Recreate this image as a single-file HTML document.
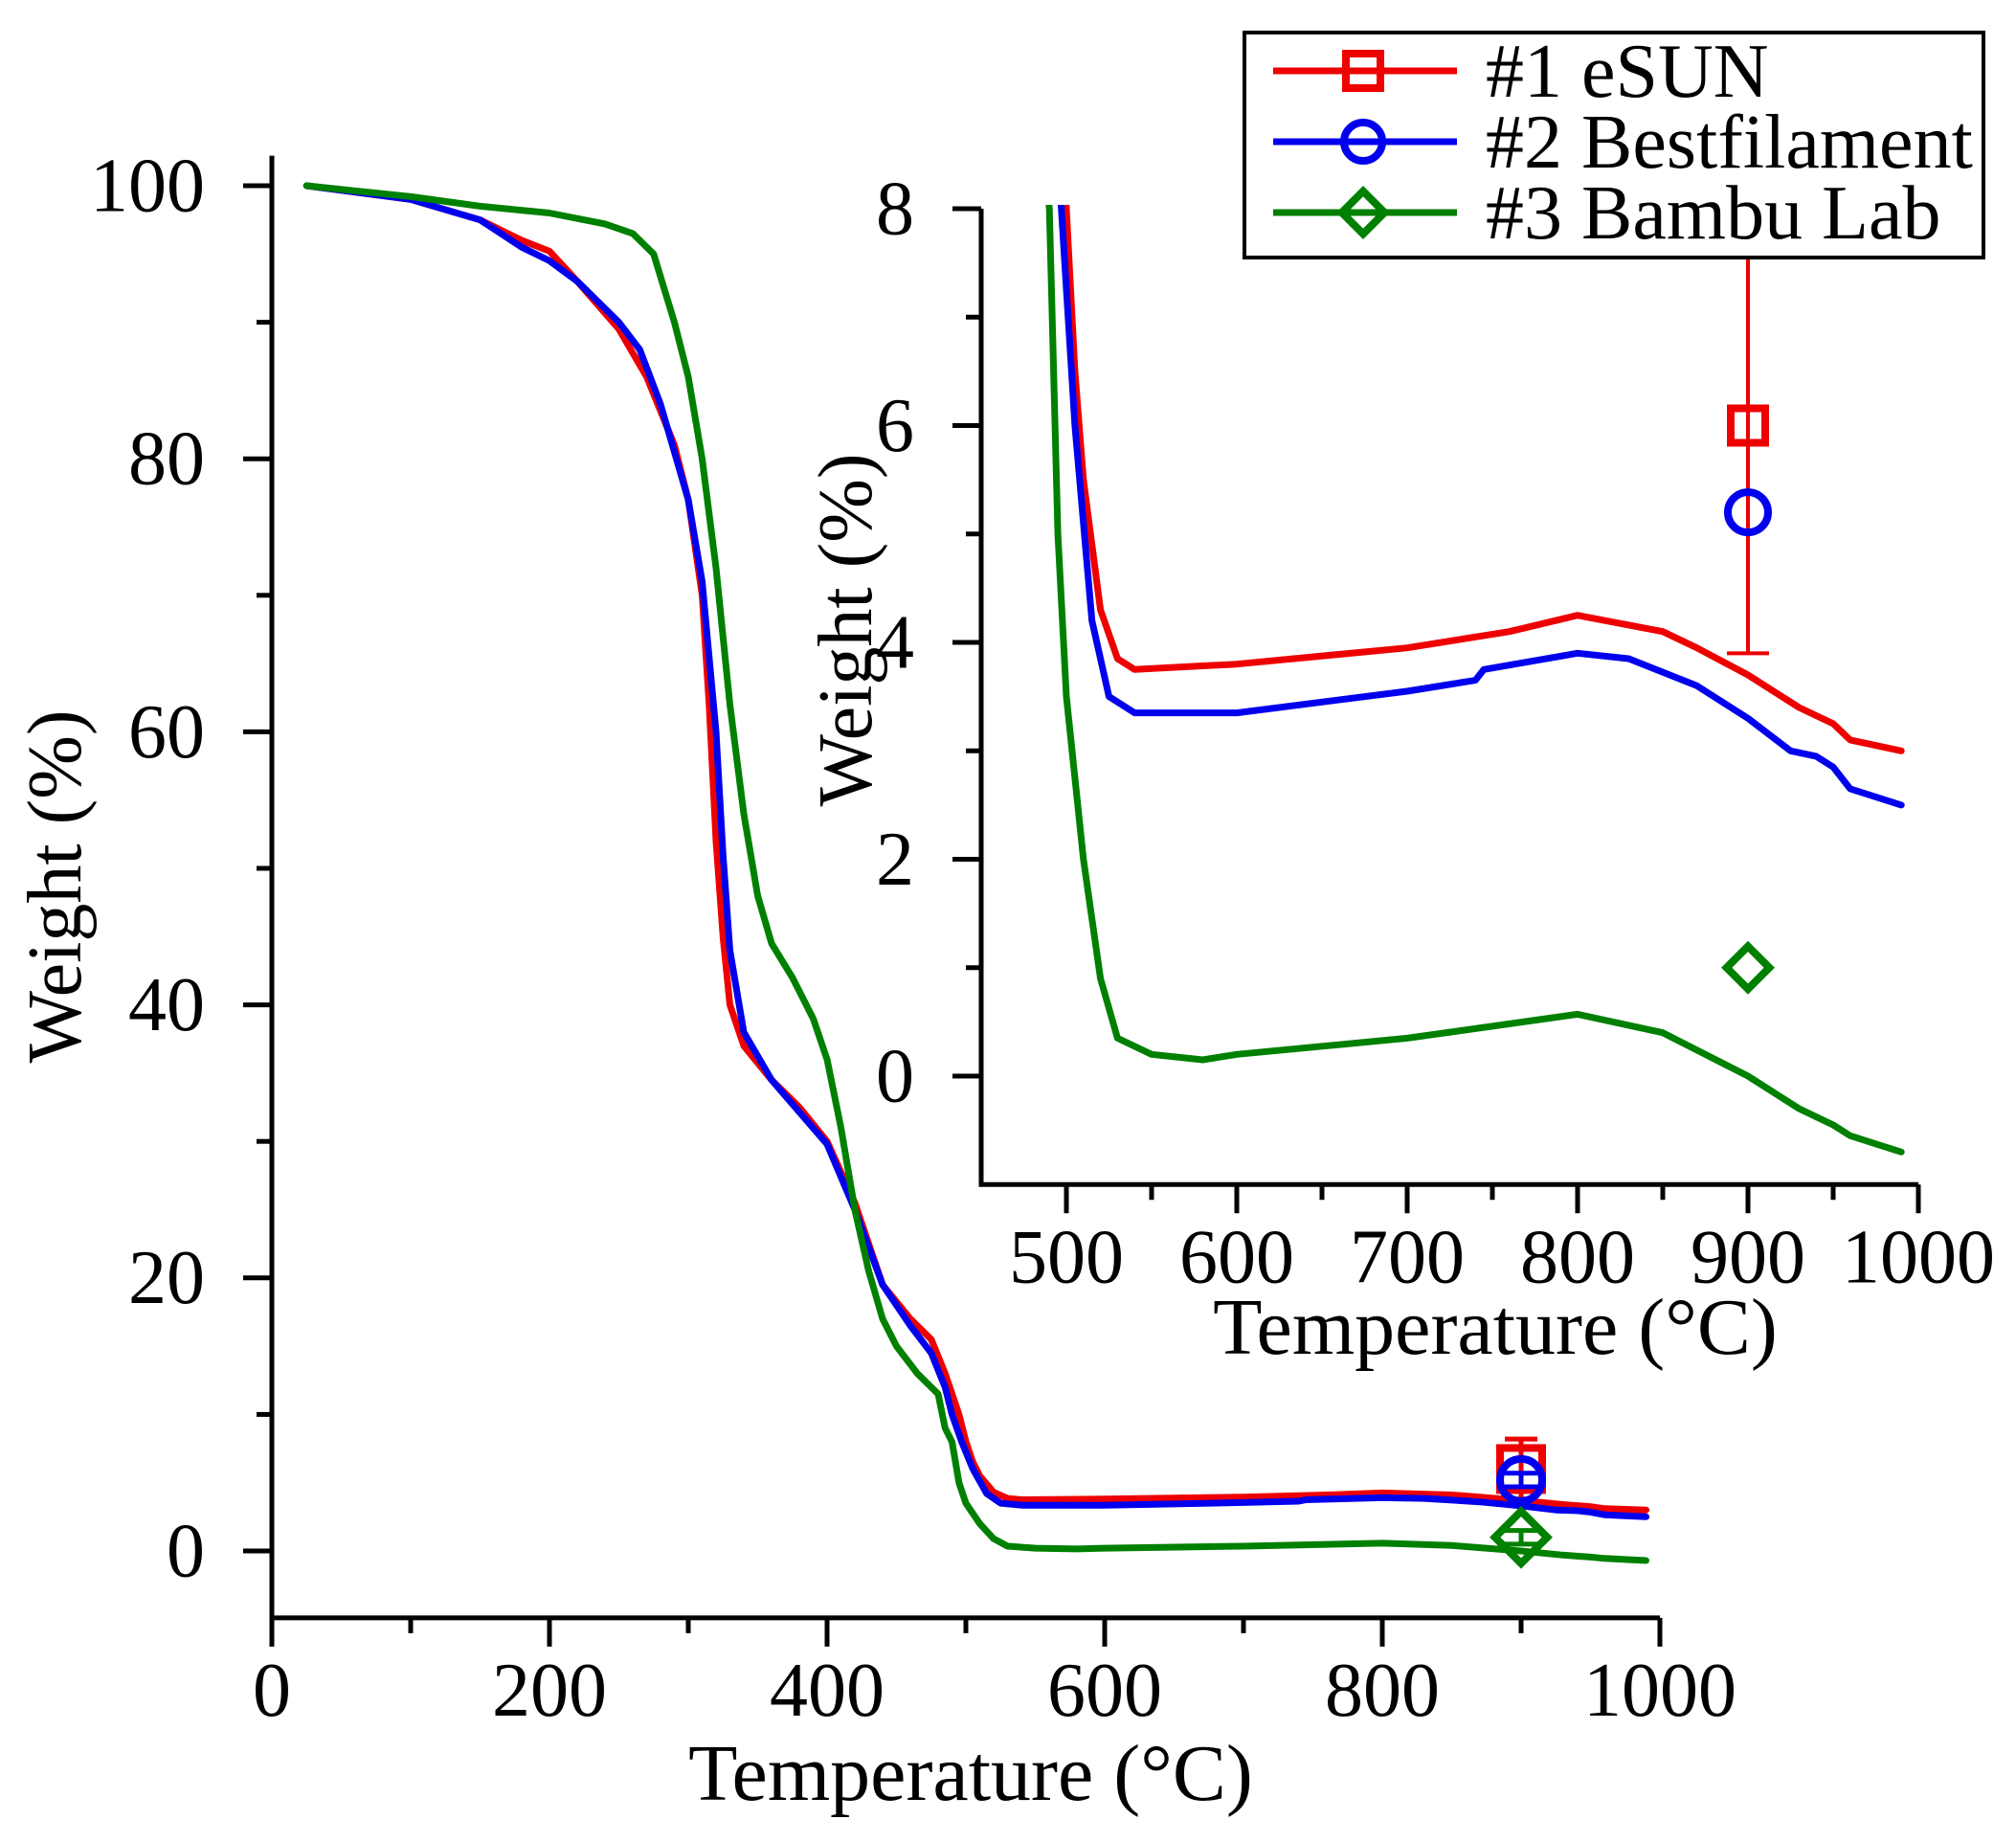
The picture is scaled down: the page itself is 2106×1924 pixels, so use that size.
<!DOCTYPE html>
<html><head><meta charset="utf-8"><style>
html,body{margin:0;padding:0;background:#fff;}
svg{display:block;}
text{font-family:"Liberation Serif",serif;fill:#000;}
</style></head><body>
<svg id="chart" width="2106" height="1924" viewBox="0 0 2106 1924" xmlns="http://www.w3.org/2000/svg">
<defs>
<clipPath id="mainClip"><rect x="284" y="150" width="1460" height="1540"/></clipPath>
<clipPath id="insetClip"><rect x="1025" y="214" width="990" height="1024"/></clipPath>
</defs>
<g id="main"></g>
<g id="inset"></g>
<g id="legend"></g>
</svg>
<script>
// ---- data ----
const seriesNames = ["#1 eSUN", "#2 Bestfilament", "#3 Bambu Lab"];
const seriesColors = ["#ee0000", "#0000ee", "#008000"];
const redT = [25,100,150,180,200,220,250,270,290,300,310,315,320,325,330,340,360,380,400,420,440,460,475,485,495,500,505,510,520,530,540,600,700,760,800,850,870,900,930,950,960,990];
const redW = [100,99,97.5,96,95.2,93,89.5,86,81,77,70,62,52,45,40,37,34.5,32.5,30,25.5,19.5,17,15.5,13,10,8,6.5,5.5,4.3,3.85,3.75,3.8,3.95,4.1,4.25,4.1,3.95,3.7,3.4,3.25,3.1,3.0];
const blueT = [25,100,150,180,200,220,250,265,280,300,310,320,325,330,340,360,400,420,440,460,475,485,490,497,505,515,525,540,600,700,740,745,800,830,870,900,925,940,950,960,990];
const blueW = [100,99,97.5,95.5,94.5,93,90,88,84,77,71,60,51,44,38,34.5,29.8,25,19.5,16.5,14.5,12,10,8,6,4.2,3.5,3.35,3.35,3.55,3.65,3.75,3.9,3.85,3.6,3.3,3.0,2.95,2.85,2.65,2.5];
const greenT = [25,100,150,200,240,260,275,290,300,310,320,330,340,350,360,375,390,400,410,420,430,440,450,465,480,485,490,495,500,510,520,530,550,580,600,700,800,850,900,930,950,960,990];
const greenW = [100,99.2,98.5,98,97.2,96.5,95,90,86,80,72,62,54,48,44.5,42,39,36,31,25,20.5,17,15,13,11.5,9,8,5,3.5,2,0.9,0.35,0.2,0.15,0.2,0.35,0.57,0.4,0.0,-0.3,-0.45,-0.55,-0.7];
const markerT = [900, 900, 900];
const markerW = [6.0, 5.2, 1.0];
const markerErr = [2.2, 0.5, 0.5];
const mainXTicks = [0,200,400,600,800,1000];
const mainYTicks = [0,20,40,60,80,100];
const insetXTicks = [500,600,700,800,900,1000];
const insetYTicks = [0,2,4,6,8];

const NS = "http://www.w3.org/2000/svg";
function mk(tag, attrs, parent){const e=document.createElementNS(NS,tag);for(const k in attrs)e.setAttribute(k,attrs[k]);parent.appendChild(e);return e;}

const mx = t => 284 + (t - 0) * 1.45;
const my = w => 1620 - w * 14.26;
const ix = t => 1114 + (t - 500) * 1.78;
const iy = w => 1124 - w * 113.25;

const allT = [redT, blueT, greenT], allW = [redW, blueW, greenW];
const FS = 80;

function drawAxes(g, xf, yf, x0, x1, y0, y1, xt, yt, xminor, yminor, fs, tickLen, minorLen, lblPrefix){
  const L=xf(x0), R=xf(x1), B=yf(y0), T=yf(y1);
  let a = mk('path',{d:`M${L},${T} L${L},${B} L${R},${B}`,stroke:'#000','stroke-width':5,fill:'none'},g);
  
  
  xt.forEach(v=>{
    const l=mk('line',{x1:xf(v),x2:xf(v),y1:B,y2:B+tickLen,stroke:'#000','stroke-width':5},g);
    
    
    const t=mk('text',{x:xf(v),y:B+tickLen+72,'font-size':fs,'text-anchor':'middle'},g);
    t.textContent=v;
    
    
  });
  xminor.forEach(v=>{
    const l=mk('line',{x1:xf(v),x2:xf(v),y1:B,y2:B+minorLen,stroke:'#000','stroke-width':5},g);
    
    
  });
  yt.forEach(v=>{
    const l=mk('line',{x1:L-tickLen,x2:L,y1:yf(v),y2:yf(v),stroke:'#000','stroke-width':5},g);
    
    
    const t=mk('text',{x:L-tickLen-40,y:yf(v)+fs*0.33,'font-size':fs,'text-anchor':'end'},g);
    t.textContent=v;
    
    
  });
  yminor.forEach(v=>{
    const l=mk('line',{x1:L-minorLen,x2:L,y1:yf(v),y2:yf(v),stroke:'#000','stroke-width':5},g);
    
    
  });
}

function drawSeries(g, xf, yf, clip, prefix){
  const cg = mk('g',{'clip-path':`url(#${clip})`},g);
  for(let s=0;s<3;s++){
    const d = allT[s].map((t,i)=>(i?'L':'M')+xf(t).toFixed(1)+','+yf(allW[s][i]).toFixed(1)).join(' ');
    const p = mk('path',{d:d,stroke:seriesColors[s],'stroke-width':7,fill:'none','stroke-linejoin':'round','stroke-linecap':'round'},cg);
    
    
  }
}

function marker(g, s, cx, cy, size, sw){
  let m;
  if(s===0) m=mk('rect',{x:cx-size/2,y:cy-size/2,width:size,height:size,fill:'none',stroke:seriesColors[0],'stroke-width':sw},g);
  else if(s===1) m=mk('circle',{cx:cx,cy:cy,r:size/2,fill:'none',stroke:seriesColors[1],'stroke-width':sw},g);
  else { const h=size*0.62; m=mk('path',{d:`M${cx},${cy-h} L${cx+h},${cy} L${cx},${cy+h} L${cx-h},${cy} Z`,fill:'none',stroke:seriesColors[2],'stroke-width':sw},g); }
  return m;
}

function drawMarkers(g, xf, yf, size, sw, cap, prefix){
  for(let s=0;s<3;s++){
    const cx=xf(markerT[s]), cy=yf(markerW[s]);
    const top=yf(markerW[s]+markerErr[s]), bot=yf(markerW[s]-markerErr[s]);
    const eb=mk('path',{d:`M${cx},${top} L${cx},${bot} M${cx-cap},${top} L${cx+cap},${top} M${cx-cap},${bot} L${cx+cap},${bot}`,stroke:seriesColors[s],'stroke-width':5,fill:'none'},g);
    
    
    const m=marker(g,s,cx,cy,size,sw);
    
    
  }
}

// ---- main chart ----
const mg=document.getElementById('main');
drawAxes(mg, mx, my, 0, 1000, -4.9, 102.2, mainXTicks, mainYTicks, [100,300,500,700,900], [10,30,50,70,90], FS, 30, 16, 'main');
drawSeries(mg, mx, my, 'mainClip', 'main');
drawMarkers(mg, mx, my, 44, 8, 17, 'main');
let t1=mk('text',{x:1014,y:1880,'font-size':84,'text-anchor':'middle'},mg);
t1.textContent='Temperature (°C)';


let t2=mk('text',{x:0,y:0,'font-size':80,'text-anchor':'middle',transform:'translate(84,926) rotate(-90)'},mg);
t2.textContent='Weight (%)';



// ---- inset ----
const ig=document.getElementById('inset');
drawAxes(ig, ix, iy, 450, 1000, -1.0, 8.0, insetXTicks, insetYTicks, [550,650,750,850,950], [1,3,5,7], FS, 30, 16, 'inset');
drawSeries(ig, ix, iy, 'insetClip', 'inset');
{
  const cx=ix(900);
  const eb=mk('path',{d:`M${cx},${iy(8.2)} L${cx},${iy(3.9)} M${cx-22},${iy(3.9)} L${cx+22},${iy(3.9)}`,stroke:seriesColors[0],'stroke-width':4,fill:'none'},ig);
  
  
  for(let k=0;k<3;k++){
    const m=marker(ig,k,ix(markerT[k]),iy(markerW[k]),k===1?42:36,8);
    
    
  }
}
let t3=mk('text',{x:1562,y:1414,'font-size':84,'text-anchor':'middle'},ig);
t3.textContent='Temperature (°C)';


let t4=mk('text',{x:0,y:0,'font-size':80,'text-anchor':'middle',transform:'translate(910,658) rotate(-90)'},ig);
t4.textContent='Weight (%)';



// ---- legend ----
const lg=document.getElementById('legend');
let box=mk('rect',{x:1300,y:34,width:772,height:235,fill:'#fff',stroke:'#000','stroke-width':4},lg);


const rowsY=[74,148,222];
for(let s=0;s<3;s++){
  const y=rowsY[s];
  const ln=mk('line',{x1:1330,x2:1522,y1:y,y2:y,stroke:seriesColors[s],'stroke-width':7},lg);
  
  
  const m=marker(lg,s,1424,y,s===1?40:36,8);
  
  
  const tx=mk('text',{x:1552,y:y+27,'font-size':80},lg);
  tx.textContent=seriesNames[s];
  
  
}
</script>
</body></html>
